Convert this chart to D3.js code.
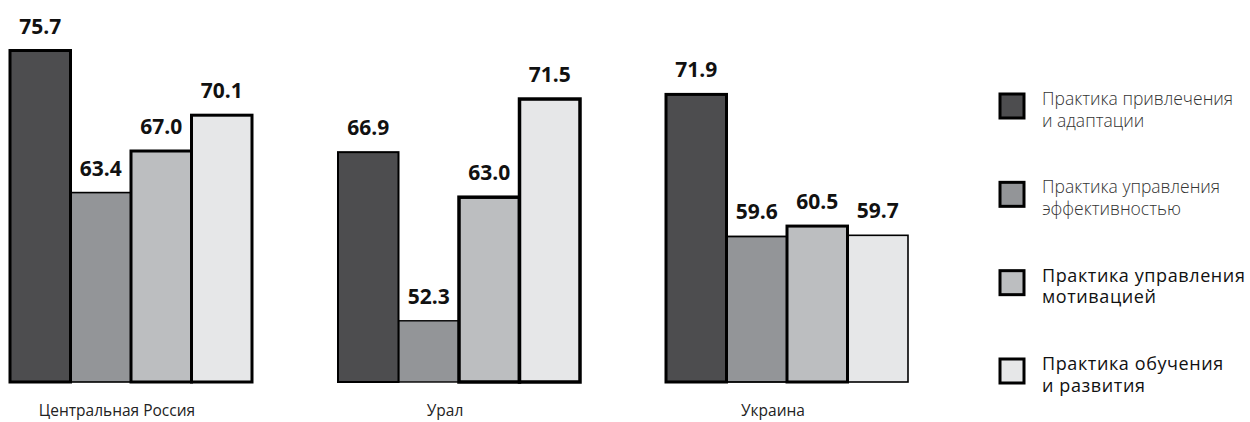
<!DOCTYPE html>
<html>
<head>
<meta charset="utf-8">
<script src="https://cdn.jsdelivr.net/npm/d3@7/dist/d3.min.js"></script>
<style>
  html, body { margin: 0; padding: 0; background: #fff; }
  svg { display: block; }
</style>
</head>
<body>
<svg id="chart" width="1250" height="422"></svg>
<script>
// Regions (groups) and practice categories (series)
const regions = ["Центральная Россия", "Урал", "Украина"];
const practices = [
  "Практика привлечения и адаптации",
  "Практика управления эффективностью",
  "Практика управления мотивацией",
  "Практика обучения и развития"
];
const legendLines = [
  ["Практика привлечения", "и адаптации"],
  ["Практика управления", "эффективностью"],
  ["Практика управления", "мотивацией"],
  ["Практика обучения", "и развития"]
];

// Index values per region, in the order of `practices`
const centralRussia = [75.7, 63.4, 67.0, 70.1];
const ural = [66.9, 52.3, 63.0, 71.5];
const ukraine = [71.9, 59.6, 60.5, 59.7];

const seriesByRegion = [centralRussia, ural, ukraine];

// ---- styling ----
const fills = ["#4d4d4f", "#939598", "#bcbec0", "#e6e7e8"];
// outline weight per bar (emphasised bars get a heavier border)
const outlineWeights = [
  [3, 1.6, 3, 3],
  [2, 1.4, 3.5, 3.5],
  [3, 1.8, 3, 1.6]
];
const legendWeights = [300, 300, 400, 400];
const legendSizes = [17.5, 17.5, 18, 18];
const legendSpacing = [0, 0, 0.6, 0.6];
const fontFamily = "'Open Sans', 'Noto Sans', sans-serif";

const svg = d3.select("#chart");
svg.append("rect").attr("width", 1250).attr("height", 422).attr("fill", "#fff");

const baseline = 382;

const x0 = d3.scaleBand()
  .domain(regions)
  .range([10, 908])
  .paddingInner(86 / 328)
  .paddingOuter(0);

const x1 = d3.scaleBand()
  .domain(practices)
  .range([0, x0.bandwidth()])
  .padding(0);

const y = d3.scaleLinear()
  .domain([47, 80])
  .range([baseline, baseline - 11.55 * 33]);

const rows = [];
regions.forEach((r, ri) => {
  seriesByRegion[ri].forEach((v, pi) => {
    rows.push({ region: r, practice: practices[pi], value: v, ri, pi, sw: outlineWeights[ri][pi] });
  });
});

// thinner outlines first so heavy borders stay on top
const drawOrder = rows.slice().sort((a, b) => a.sw - b.sw);

svg.append("g")
  .selectAll("rect")
  .data(drawOrder)
  .join("rect")
  .attr("x", d => x0(d.region) + x1(d.practice))
  .attr("y", d => y(d.value))
  .attr("width", x1.bandwidth())
  .attr("height", d => baseline - y(d.value))
  .attr("fill", d => fills[d.pi])
  .attr("stroke", "#000")
  .attr("stroke-width", d => d.sw)
  .attr("stroke-linejoin", "miter");

// value labels
svg.append("g")
  .selectAll("text")
  .data(rows)
  .join("text")
  .attr("x", d => x0(d.region) + x1(d.practice) + x1.bandwidth() / 2)
  .attr("y", d => y(d.value) - 17)
  .attr("text-anchor", "middle")
  .attr("font-family", fontFamily)
  .attr("font-weight", 700)
  .attr("font-size", 21)
  .attr("fill", "#111")
  .text(d => d.value.toFixed(1));

// region labels
svg.append("g")
  .selectAll("text")
  .data(regions)
  .join("text")
  .attr("x", d => x0(d) + x0.bandwidth() / 2 - 14)
  .attr("y", 416)
  .attr("text-anchor", "middle")
  .attr("font-family", fontFamily)
  .attr("font-size", 15.5)
  .attr("fill", "#222")
  .text(d => d);

// legend
const legendY = d3.scalePoint().domain(practices).range([106, 371]);
const legend = svg.append("g")
  .selectAll("g")
  .data(practices)
  .join("g")
  .attr("transform", d => `translate(1000, ${legendY(d)})`);

legend.append("rect")
  .attr("x", 0)
  .attr("y", -12)
  .attr("width", 24)
  .attr("height", 24)
  .attr("fill", (d, i) => fills[i])
  .attr("stroke", "#000")
  .attr("stroke-width", 3);

legend.each(function (d, i) {
  const t = d3.select(this).append("text")
    .attr("font-family", fontFamily)
    .attr("font-weight", legendWeights[i])
    .attr("font-size", legendSizes[i])
    .attr("letter-spacing", legendSpacing[i])
    .attr("fill", i < 2 ? "#333" : "#111");
  legendLines[i].forEach((line, li) => {
    t.append("tspan")
      .attr("x", 42)
      .attr("y", li === 0 ? -1 : 20.5)
      .text(line);
  });
});
</script>
</body>
</html>
